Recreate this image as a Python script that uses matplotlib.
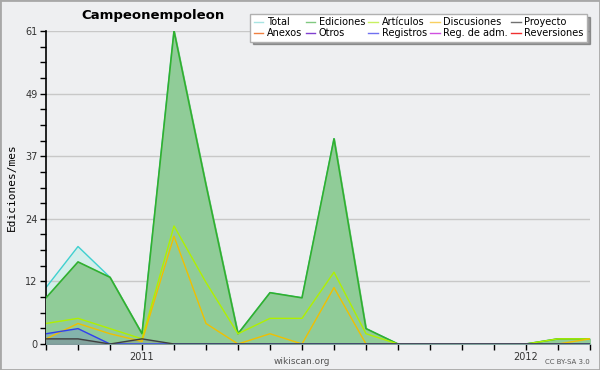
import matplotlib
matplotlib.use('Agg')
import matplotlib.pyplot as plt
from matplotlib.lines import Line2D
import numpy as np

# meses: oct 2010 .. mar 2012
months = list(range(18))
tick_labels = {3: '2011', 15: '2012'}

total      = [11, 19, 13, 2, 61, 31, 2, 10, 9, 40, 3, 0, 0, 0, 0, 0, 1, 1]
ediciones  = [9, 16, 13, 2, 61, 31, 2, 10, 9, 40, 3, 0, 0, 0, 0, 0, 1, 1]
articulos  = [4, 5, 3, 1, 23, 12, 2, 5, 5, 14, 2, 0, 0, 0, 0, 0, 1, 1]
discusion  = [1, 4, 2, 0.5, 21, 4, 0, 2, 0, 11, 0, 0, 0, 0, 0, 0, 0, 1]
registros  = [2, 3, 0, 0, 0, 0, 0, 0, 0, 0, 0, 0, 0, 0, 0, 0, 0, 0]
proyecto   = [1, 1, 0, 1, 0, 0, 0, 0, 0, 0, 0, 0, 0, 0, 0, 0, 0, 0]

legend_names = ['Total', 'Ediciones', 'Artículos', 'Discusiones', 'Proyecto',
                'Anexos', 'Otros', 'Registros', 'Reg. de adm.', 'Reversiones']
legend_colors = ['#a8e4e2', '#80c880', '#c8f060', '#f8d060', '#707070',
                 '#f08040', '#8040d0', '#7070f0', '#d050e0', '#f03030']

bg = '#eeeff1'
fig = plt.figure(figsize=(6, 3.7), dpi=100, facecolor=bg)
ax = fig.add_axes([46/600, 26/370, 544/600, 313/370])
ax.set_facecolor(bg)

# areas
ax.fill_between(months, total, color='#d4eeea', zorder=1)
ax.plot(months, total, color='#40d0d0', lw=1, zorder=2)
ax.fill_between(months, ediciones, color='#90cc98', zorder=3)
ax.plot(months, ediciones, color='#30b030', lw=1.2, zorder=4)
ax.fill_between(months, registros, color='#7a9ec0', alpha=0.5, zorder=4)
ax.plot(months, articulos, color='#b0f000', lw=1, zorder=5)
ax.plot(months, discusion, color='#f0c000', lw=1, zorder=5)
ax.plot(months, registros, color='#3040f0', lw=1, zorder=5)
ax.fill_between(months, proyecto, color='#808080', alpha=0.3, zorder=4)
ax.plot(months, proyecto, color='#404040', lw=1, zorder=5)

ax.set_xlim(0, 17)
ax.set_ylim(0, 61)
major = [61 * k / 5 for k in range(6)]
ax.set_yticks(major)
ax.set_yticklabels([str(round(v)) for v in major], fontsize=7, color='#333333')
ax.set_yticks([61 * k / 20 for k in range(21)], minor=True)
ax.set_xticks(months)
ax.set_xticklabels([tick_labels.get(m, '') for m in months], fontsize=7, color='#333333')
ax.tick_params(axis='both', which='both', length=4, width=1, color='black', pad=2)
ax.tick_params(axis='y', which='minor', length=4)
ax.grid(axis='y', which='major', color='#c8c8c8', lw=1, zorder=0)
for s in ['top', 'right']:
    ax.spines[s].set_visible(False)
ax.spines['left'].set_linewidth(1.2)
ax.spines['bottom'].set_linewidth(1.2)
ax.set_ylabel('Ediciones/mes', fontsize=8, family='DejaVu Sans Mono', labelpad=6)

fig.text(153/600, 1 - 15/370, 'Campeonempoleon', ha='center', va='center',
         fontsize=9.5, fontweight='bold')
fig.text(302/600, 1 - 361/370, 'wikiscan.org', ha='center', va='center',
         fontsize=6.5, color='#555555')
fig.text(590/600, 1 - 362/370, 'CC BY-SA 3.0', ha='right', va='center',
         fontsize=5, color='#555555')

# legend, filled column-wise so reorder
handles = [Line2D([], [], color=c, lw=1) for c in legend_colors]
order = [0, 5, 1, 6, 2, 7, 3, 8, 4, 9]
leg = fig.legend([handles[i] for i in order], [legend_names[i] for i in order],
                 ncol=5, loc='upper right', bbox_to_anchor=(592/600, 1 - 9/370),
                 fontsize=7, frameon=True, fancybox=False, shadow=True,
                 handlelength=1.0, handletextpad=0.35, columnspacing=0.35,
                 labelspacing=0.1, borderpad=0.35)
leg.get_frame().set_edgecolor('#b0b0b0')
leg.get_frame().set_facecolor('white')

fig.patches.append(plt.Rectangle((0, 0), 1, 1, transform=fig.transFigure,
                                 fill=False, edgecolor='#a8a8a8', lw=2))
fig.savefig('out.png', dpi=100, facecolor=bg)
